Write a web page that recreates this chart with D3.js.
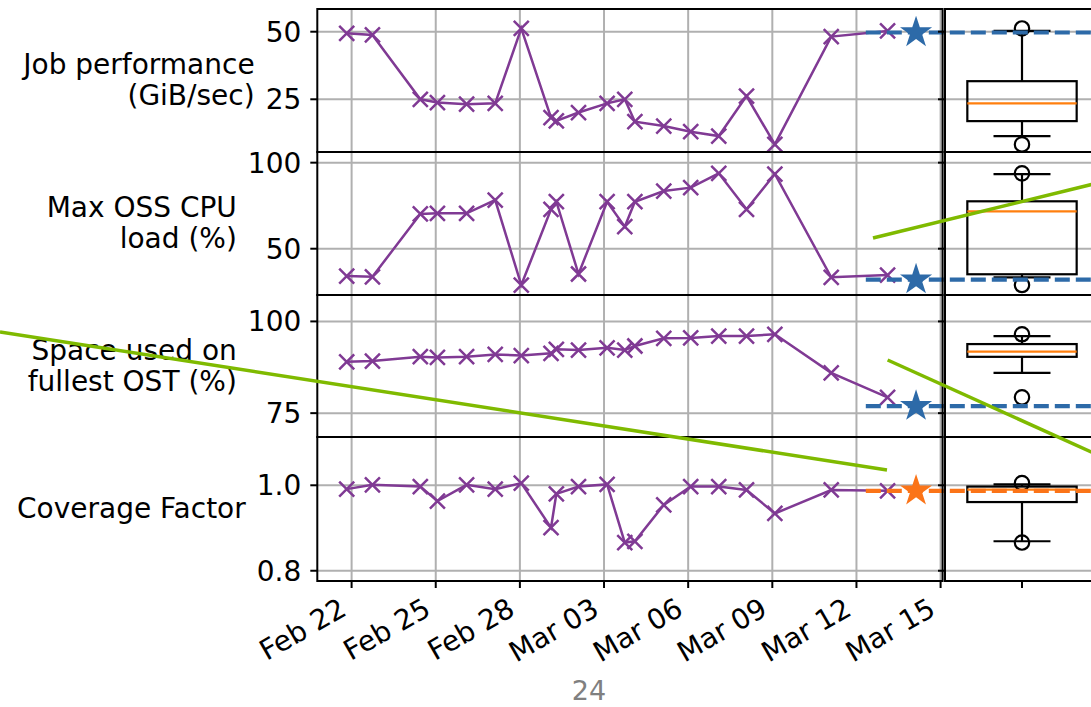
<!DOCTYPE html>
<html>
<head>
<meta charset="utf-8">
<script src="https://cdn.jsdelivr.net/npm/d3@7/dist/d3.min.js"></script>
<style>
body{margin:0;background:#fff;}
text{font-family:"DejaVu Sans",sans-serif;}
</style>
</head>
<body>
<svg id="chart" width="1091" height="707"></svg>
<script>
// ---------------- data ----------------
var RUN_DATES = ["2019-02-21T19:48","2019-02-22T17:50","2019-02-24T10:48","2019-02-25T01:26","2019-02-26T02:24",
	"2019-02-27T02:53","2019-02-28T01:12","2019-03-01T02:38","2019-03-01T07:12","2019-03-02T02:10",
	"2019-03-03T02:38","2019-03-03T17:45","2019-03-04T02:24","2019-03-05T03:07","2019-03-06T02:10",
	"2019-03-07T02:10","2019-03-08T01:55","2019-03-09T02:10","2019-03-11T02:24","2019-03-13T02:38"];

var JOB_PERF = [49.4,48.8,25.0,23.8,23.2,23.5,51.2,18.2,17.0,20.1,23.5,25.0,16.7,15.1,13.0,11.4,26.2,8.3,48.2,50.3];
var OSS_CPU  = [34.1,33.7,70.2,70.6,70.6,78.3,28.9,72.9,77.3,35.3,77.3,62.8,77.3,83.5,85.5,93.8,72.9,93.4,33.4,34.7];
var OST_FULL = [89.0,89.2,90.4,90.2,90.4,91.0,90.7,91.3,92.4,92.2,92.8,92.2,93.3,95.4,95.5,96.0,96.0,96.5,86.0,79.3];
var COVERAGE = [0.991,1.001,0.997,0.963,1.001,0.991,1.005,0.901,0.980,0.997,1.002,0.866,0.869,0.954,0.997,0.997,0.989,0.934,0.989,0.987];

// today's measurement (star) and the dashed reference line starting a bit before it
var STAR_DATE = "2019-03-14T03:00";
var DASH_START = "2019-03-12T08:00";
var STAR_VALUES = [49.7, 32.0, 76.9, 0.987];
var STAR_KIND = ["normal","normal","normal","bad"];   // bad -> orange

var LABELS = [["Job performance","(GiB/sec)"],["Max OSS CPU","load (%)"],["Space used on","fullest OST (%)"],["Coverage Factor"]];
var Y_TICKS = [[25,50],[50,100],[75,100],[0.8,1.0]];
var X_TICKS = ["2019-02-22","2019-02-25","2019-02-28","2019-03-03","2019-03-06","2019-03-09","2019-03-12","2019-03-15"];
var PAGE_NUMBER = "24";

// ---------------- layout ----------------
var W = 1091, H = 707;
var FONT = 28;
var COLOR_LINE = "#803a94", COLOR_NORMAL = "#2d6aa8", COLOR_BAD = "#fb7418";
var COLOR_GRID = "#b0b0b0", COLOR_GREEN = "#7fba00";

var svg = d3.select("#chart");
var parse = d3.utcParse("%Y-%m-%dT%H:%M");
var parseDay = d3.utcParse("%Y-%m-%d");

var runDates = RUN_DATES.map(parse);
var xTicks = X_TICKS.map(parseDay);

// time axis: calibrated on the first/last tick, then extended to the axes frame
var _x0 = d3.scaleUtc().domain([xTicks[0], xTicks[xTicks.length-1]]).range([351.6, 940.6]);
var AX_LEFT = 317.3, AX_RIGHT = 942.6;
var x = d3.scaleUtc().domain([_x0.invert(AX_LEFT), _x0.invert(AX_RIGHT)]).range([AX_LEFT, AX_RIGHT]);

// box plot axes to the right (partly cut off by the page)
var xBox = d3.scaleLinear().domain([0.5,1.5]).range([945, 1099]);
var BOX_W = 0.71, CAP_W = 0.37;

var panels = [
	{values: JOB_PERF, top: 9,   bottom: 152, domain: [5.5, 58.4],    fmt: d3.format("d")},
	{values: OSS_CPU,  top: 152, bottom: 295, domain: [23.1, 106.2],  fmt: d3.format("d")},
	{values: OST_FULL, top: 295, bottom: 437, domain: [68.5, 107.2],  fmt: d3.format("d")},
	{values: COVERAGE, top: 437, bottom: 581, domain: [0.776, 1.113], fmt: d3.format(".1f")}
];

function boxStats(vals){
	var s = vals.slice().sort(d3.ascending);
	var lo = d3.quantileSorted(s,0.05), hi = d3.quantileSorted(s,0.95);
	var st = {
		q1: d3.quantileSorted(s,0.25),
		med: d3.quantileSorted(s,0.5),
		q3: d3.quantileSorted(s,0.75),
		wlo: d3.min(s.filter(function(v){return v>=lo;})),
		whi: d3.max(s.filter(function(v){return v<=hi;}))
	};
	st.fliers = s.filter(function(v){return v<st.wlo || v>st.whi;});
	return st;
}

var defs = svg.append("defs");
var starPath = d3.symbol(d3.symbolStar).size(320)();
var xMark = "M-7.5,-7.5L7.5,7.5M-7.5,7.5L7.5,-7.5";

panels.forEach(function(p,i){
	var y = d3.scaleLinear().domain(p.domain).range([p.bottom, p.top]);
	var g = svg.append("g").attr("class","panel"+i);
	var starColor = STAR_KIND[i]=="bad" ? COLOR_BAD : COLOR_NORMAL;

	defs.append("clipPath").attr("id","clip"+i).append("rect")
		.attr("x",AX_LEFT).attr("y",p.top).attr("width",AX_RIGHT-AX_LEFT).attr("height",p.bottom-p.top);
	defs.append("clipPath").attr("id","clipbox"+i).append("rect")
		.attr("x",xBox.range()[0]).attr("y",p.top).attr("width",xBox.range()[1]-xBox.range()[0]).attr("height",p.bottom-p.top);

	// grid
	var gGrid = g.append("g");
	gGrid.selectAll("line.vx").data(xTicks).enter().append("line")
		.attr("x1",function(d){return x(d);}).attr("x2",function(d){return x(d);})
		.attr("y1",p.top).attr("y2",p.bottom)
		.style("stroke",COLOR_GRID).style("stroke-width",2);
	gGrid.selectAll("line.hy").data(Y_TICKS[i]).enter().append("line")
		.attr("x1",AX_LEFT).attr("x2",xBox.range()[1])
		.attr("y1",function(d){return y(d);}).attr("y2",function(d){return y(d);})
		.style("stroke",COLOR_GRID).style("stroke-width",2);

	// time series
	var series = runDates.map(function(d,k){return {date:d, v:p.values[k]};});
	var gData = g.append("g").attr("clip-path","url(#clip"+i+")");
	gData.append("path").datum(series)
		.attr("d", d3.line().x(function(d){return x(d.date);}).y(function(d){return y(d.v);}))
		.style("fill","none").style("stroke",COLOR_LINE).style("stroke-width",2.5);
	gData.selectAll("path.mk").data(series).enter().append("path")
		.attr("d",xMark)
		.attr("transform",function(d){return "translate("+x(d.date)+","+y(d.v)+")";})
		.style("fill","none").style("stroke",COLOR_LINE).style("stroke-width",2.5);

	// box plot
	var st = boxStats(p.values);
	var gBox = g.append("g").attr("clip-path","url(#clipbox"+i+")");
	var cx = xBox(1);
	gBox.append("rect")
		.attr("x",xBox(1-BOX_W/2)).attr("width",xBox(1+BOX_W/2)-xBox(1-BOX_W/2))
		.attr("y",y(st.q3)).attr("height",y(st.q1)-y(st.q3))
		.style("fill","none").style("stroke","#000").style("stroke-width",2.2);
	[[st.q3,st.whi],[st.q1,st.wlo]].forEach(function(w){
		gBox.append("line").attr("x1",cx).attr("x2",cx).attr("y1",y(w[0])).attr("y2",y(w[1]))
			.style("stroke","#000").style("stroke-width",2.2);
		gBox.append("line").attr("x1",xBox(1-CAP_W/2)).attr("x2",xBox(1+CAP_W/2))
			.attr("y1",y(w[1])).attr("y2",y(w[1]))
			.style("stroke","#000").style("stroke-width",2.2);
	});
	gBox.append("line").attr("x1",xBox(1-BOX_W/2)).attr("x2",xBox(1+BOX_W/2))
		.attr("y1",y(st.med)).attr("y2",y(st.med))
		.style("stroke","#ff7f0e").style("stroke-width",2.2);
	gBox.selectAll("circle").data(st.fliers).enter().append("circle")
		.attr("cx",cx).attr("cy",function(d){return y(d);}).attr("r",7.2)
		.style("fill","none").style("stroke","#000").style("stroke-width",2.2);

	// dashed reference + star
	var ys = y(STAR_VALUES[i]);
	g.append("line").attr("x1",x(parse(DASH_START))).attr("x2",W+10).attr("y1",ys).attr("y2",ys)
		.style("stroke",starColor).style("stroke-width",4.2).style("stroke-dasharray","15,6");
	g.append("path").attr("d",starPath)
		.attr("transform","translate("+x(parse(STAR_DATE))+","+ys+")")
		.style("fill",starColor);

	// spines
	g.append("rect").attr("x",AX_LEFT).attr("y",p.top).attr("width",AX_RIGHT-AX_LEFT).attr("height",p.bottom-p.top)
		.style("fill","none").style("stroke","#000").style("stroke-width",2);
	g.append("rect").attr("x",xBox.range()[0]).attr("y",p.top).attr("width",xBox.range()[1]-xBox.range()[0]).attr("height",p.bottom-p.top)
		.style("fill","none").style("stroke","#000").style("stroke-width",2);

	// y ticks (left axes and box axes)
	Y_TICKS[i].forEach(function(t){
		[AX_LEFT, xBox.range()[0]].forEach(function(x0){
			g.append("line").attr("x1",x0-7).attr("x2",x0).attr("y1",y(t)).attr("y2",y(t))
				.style("stroke","#000").style("stroke-width",2);
		});
	});
	var maxW = 0;
	Y_TICKS[i].forEach(function(t){
		var tx = g.append("text").text(p.fmt(t))
			.attr("x",AX_LEFT-16).attr("y",y(t)+FONT*0.36)
			.style("text-anchor","end").style("font-size",FONT+"px");
		maxW = Math.max(maxW, tx.node().getComputedTextLength());
	});

	// y label, right aligned next to the tick labels, centred on the panel
	var lines = LABELS[i];
	var lineH = 31;
	var mid = (p.top+p.bottom)/2;
	var firstBase = mid - (lines.length-1)*lineH/2 + FONT*0.33;
	var lbl = g.append("text").style("font-size",FONT+"px").style("text-anchor","end");
	lines.forEach(function(s,k){
		lbl.append("tspan").text(s).attr("x",AX_LEFT-16-maxW-11).attr("y",firstBase+k*lineH);
	});
});

// x axis (bottom panel only)
var yBottom = panels[panels.length-1].bottom;
var gX = svg.append("g");
xTicks.forEach(function(d){
	gX.append("line").attr("x1",x(d)).attr("x2",x(d)).attr("y1",yBottom).attr("y2",yBottom+7)
		.style("stroke","#000").style("stroke-width",2);
	gX.append("text").text(d3.utcFormat("%b %d")(d))
		.attr("transform","translate("+(x(d)-3.4)+","+(yBottom+33)+") rotate(-30)")
		.style("text-anchor","end").style("font-size",FONT+"px");
});
gX.append("line").attr("x1",xBox(1)).attr("x2",xBox(1)).attr("y1",yBottom).attr("y2",yBottom+7)
	.style("stroke","#000").style("stroke-width",2);

// green connector strokes overlaid on the slide (page coordinates)
var OVERLAY = [[[0,332],[887,470]],[[873,238],[1100,182.4]],[[887.6,360],[1100,455.9]]];
svg.append("g").selectAll("line").data(OVERLAY).enter().append("line")
	.attr("x1",function(d){return d[0][0];}).attr("y1",function(d){return d[0][1];})
	.attr("x2",function(d){return d[1][0];}).attr("y2",function(d){return d[1][1];})
	.style("stroke",COLOR_GREEN).style("stroke-width",3.5);

// page number
svg.append("text").text(PAGE_NUMBER).attr("x",589).attr("y",700)
	.style("text-anchor","middle").style("font-size","27px").style("fill","#808080");
</script>
</body>
</html>
